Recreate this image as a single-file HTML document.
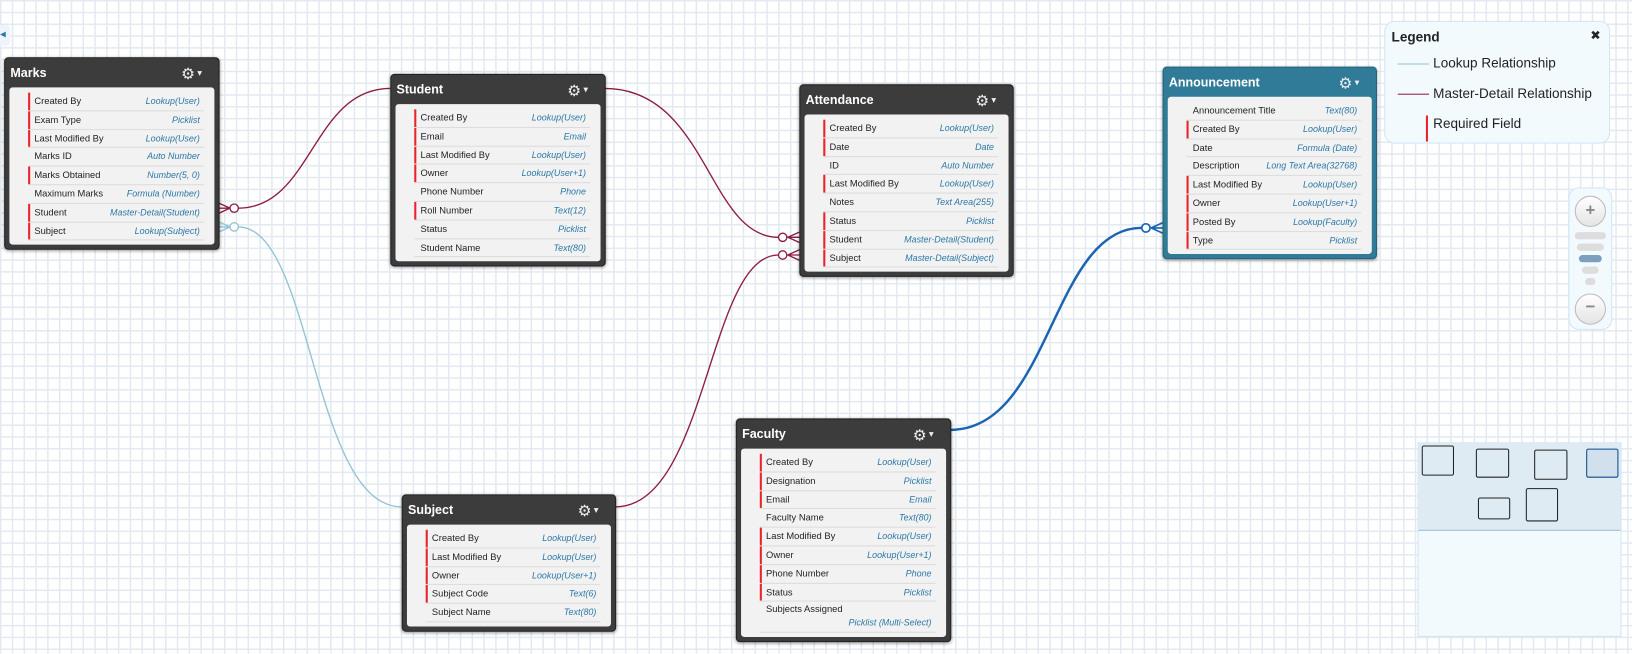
<!DOCTYPE html>
<html><head><meta charset="utf-8"><style>
body{margin:0;width:1632px;height:653px;overflow:hidden;font-family:"Liberation Sans",sans-serif;background:#fff}
#w{position:absolute;left:0;top:0;width:1568px;height:628px;transform:scale(1.0408);transform-origin:0 0;
background-color:#fff;background-image:linear-gradient(#e2e9f1 1.3px,transparent 1.3px),linear-gradient(90deg,#e2e9f1 1.3px,transparent 1.3px);background-size:11.33px 11.33px}
.box{position:absolute;background:#3c3c3c;border:1px solid #222;border-radius:4px;box-shadow:0 1px 3px rgba(0,0,0,.4)}
.box.teal{background:#2f7b98;border-color:#236179}
.hd{height:28px;color:#fff;font-weight:bold;font-size:12px;line-height:28px;padding-left:5px;position:relative}
.gear{position:absolute;right:16px;top:0;font-size:15px;color:#eee;font-weight:normal}
.gear:after{content:"▾";font-size:9px;margin-left:2px;vertical-align:3px}
.pn{background:#f2f2f2;margin:0 4px 4px;border-radius:3px;padding:5px 0 4px}
.r{height:17.8px;margin:0 10px 0 18px;border-bottom:1px solid #dcdcdc;box-sizing:border-box;position:relative;font-size:9px;color:#222;line-height:17px;padding-left:6px}
.r.q:before{content:"";position:absolute;left:0;top:0;bottom:0;width:2px;background:#e8252b}
.r i{position:absolute;right:4px;top:0;color:#2a78a6;font-size:8.6px}
.lg{position:absolute;left:1330px;top:20px;width:215px;height:116px;background:#f3fafe;border:1px solid #cfe6f6;border-radius:10px}
</style></head><body><div id="w">
<div style="position:absolute;left:0;top:24px;width:10px;height:20px;background:#eef4fa;border-radius:0 4px 4px 0;font-size:7px;color:#2a78a6;line-height:20px">◀</div>
<svg width="1568" height="628" style="position:absolute;left:0;top:0">
<g fill="none" stroke="#8e1c42" stroke-width="1.3">
<path d="M229 200 C300 200 300 85 375 85"/><path d="M210 195 L221 200 L210 205 M210 200 H221"/><circle cx="225" cy="200" r="4" fill="#fff"/>
<path d="M581 85 C680 85 680 228 748 228"/><path d="M768 223 L757 228 L768 233 M768 228 H757"/><circle cx="752" cy="228" r="4" fill="#fff"/>
<path d="M591 487 C680 487 680 245 748 245"/><path d="M768 240 L757 245 L768 250 M768 245 H757"/><circle cx="752" cy="245" r="4" fill="#fff"/>
</g>
<g fill="none" stroke="#93c3d6" stroke-width="1.3">
<path d="M229 218 C300 218 300 487 386 487"/><path d="M210 213 L221 218 L210 223 M210 218 H221"/><circle cx="225" cy="218" r="4" fill="#fff"/>
</g>
<g fill="none" stroke="#1a64b2" stroke-width="2.4">
<path d="M913 413 C1010 413 1010 219 1097 219"/><path d="M1117 214 L1106 219 L1117 224 M1117 219 H1106" stroke-width="1.6"/><circle cx="1101" cy="219" r="4" fill="#fff" stroke-width="1.6"/>
</g>
</svg>

<div class="box" style="left:4px;top:55px;width:205px"><div class="hd">Marks<span class="gear">⚙</span></div><div class="pn">
<div class="r q">Created By<i>Lookup(User)</i></div><div class="r q">Exam Type<i>Picklist</i></div><div class="r q">Last Modified By<i>Lookup(User)</i></div><div class="r">Marks ID<i>Auto Number</i></div><div class="r q">Marks Obtained<i>Number(5, 0)</i></div><div class="r">Maximum Marks<i>Formula (Number)</i></div><div class="r q">Student<i>Master-Detail(Student)</i></div><div class="r q">Subject<i>Lookup(Subject)</i></div></div></div>

<div class="box" style="left:375px;top:71px;width:205px"><div class="hd">Student<span class="gear">⚙</span></div><div class="pn">
<div class="r q">Created By<i>Lookup(User)</i></div><div class="r q">Email<i>Email</i></div><div class="r q">Last Modified By<i>Lookup(User)</i></div><div class="r q">Owner<i>Lookup(User+1)</i></div><div class="r">Phone Number<i>Phone</i></div><div class="r q">Roll Number<i>Text(12)</i></div><div class="r">Status<i>Picklist</i></div><div class="r">Student Name<i>Text(80)</i></div></div></div>

<div class="box" style="left:768px;top:81px;width:204px"><div class="hd">Attendance<span class="gear">⚙</span></div><div class="pn">
<div class="r q">Created By<i>Lookup(User)</i></div><div class="r q">Date<i>Date</i></div><div class="r">ID<i>Auto Number</i></div><div class="r q">Last Modified By<i>Lookup(User)</i></div><div class="r">Notes<i>Text Area(255)</i></div><div class="r q">Status<i>Picklist</i></div><div class="r q">Student<i>Master-Detail(Student)</i></div><div class="r q">Subject<i>Master-Detail(Subject)</i></div></div></div>

<div class="box teal" style="left:1117px;top:64px;width:204px"><div class="hd">Announcement<span class="gear">⚙</span></div><div class="pn">
<div class="r">Announcement Title<i>Text(80)</i></div><div class="r q">Created By<i>Lookup(User)</i></div><div class="r">Date<i>Formula (Date)</i></div><div class="r">Description<i>Long Text Area(32768)</i></div><div class="r q">Last Modified By<i>Lookup(User)</i></div><div class="r q">Owner<i>Lookup(User+1)</i></div><div class="r q">Posted By<i>Lookup(Faculty)</i></div><div class="r q">Type<i>Picklist</i></div></div></div>

<div class="box" style="left:707px;top:402px;width:205px"><div class="hd">Faculty<span class="gear">⚙</span></div><div class="pn">
<div class="r q">Created By<i>Lookup(User)</i></div><div class="r q">Designation<i>Picklist</i></div><div class="r q">Email<i>Email</i></div><div class="r">Faculty Name<i>Text(80)</i></div><div class="r q">Last Modified By<i>Lookup(User)</i></div><div class="r q">Owner<i>Lookup(User+1)</i></div><div class="r q">Phone Number<i>Phone</i></div><div class="r q">Status<i>Picklist</i></div><div class="r" style="height:30px;line-height:15px">Subjects Assigned<i style="top:13px">Picklist (Multi-Select)</i></div></div></div>

<div class="box" style="left:386px;top:475px;width:204px"><div class="hd">Subject<span class="gear">⚙</span></div><div class="pn">
<div class="r q">Created By<i>Lookup(User)</i></div><div class="r q">Last Modified By<i>Lookup(User)</i></div><div class="r q">Owner<i>Lookup(User+1)</i></div><div class="r q">Subject Code<i>Text(6)</i></div><div class="r">Subject Name<i>Text(80)</i></div></div></div>

<div class="lg">
<div style="position:absolute;left:6px;top:7px;font-weight:bold;font-size:13px;color:#222">Legend</div>
<div style="position:absolute;right:8px;top:6px;font-size:12px;color:#222">✖</div>
<div style="position:absolute;left:12px;top:40px;width:30px;height:1px;background:#93c3d6"></div>
<div style="position:absolute;left:46px;top:32px;font-size:13px;color:#222">Lookup Relationship</div>
<div style="position:absolute;left:12px;top:69px;width:30px;height:1px;background:#8e1c42"></div>
<div style="position:absolute;left:46px;top:61px;font-size:13px;color:#222">Master-Detail Relationship</div>
<div style="position:absolute;left:39px;top:90px;width:2px;height:25px;background:#e8252b"></div>
<div style="position:absolute;left:46px;top:90px;font-size:13px;color:#222">Required Field</div>
</div>

<div style="position:absolute;left:1507px;top:180px;width:40px;height:135px;background:#f3fafe;border:1px solid #cfe6f6;border-radius:10px">
<div style="position:absolute;left:5px;top:7px;width:28px;height:28px;border-radius:50%;background:linear-gradient(#fff,#e4e4e4);border:1px solid #bbb;text-align:center;line-height:27px;font-weight:bold;color:#888;font-size:16px">+</div>
<div style="position:absolute;left:5px;top:42px;width:30px;height:7px;border-radius:4px;background:#ddd"></div>
<div style="position:absolute;left:7px;top:53px;width:26px;height:7px;border-radius:4px;background:#ddd"></div>
<div style="position:absolute;left:9px;top:64px;width:22px;height:7px;border-radius:4px;background:#7d9fc0"></div>
<div style="position:absolute;left:12px;top:75px;width:16px;height:7px;border-radius:4px;background:#ddd"></div>
<div style="position:absolute;left:15px;top:86px;width:10px;height:7px;border-radius:4px;background:#ddd"></div>
<div style="position:absolute;left:5px;top:101px;width:28px;height:28px;border-radius:50%;background:linear-gradient(#fff,#e4e4e4);border:1px solid #bbb;text-align:center;line-height:26px;font-weight:bold;color:#888;font-size:16px">−</div>
</div>

<div style="position:absolute;left:1362px;top:425px;width:194px;height:185px;background:#f3fafe;border:1px solid #cfe6f6">
<div style="position:absolute;left:0;top:0;width:194px;height:83px;background:#deebf3;border-bottom:1px solid #9cc0d6"></div>
<div style="position:absolute;left:3px;top:2px;width:29px;height:27px;border:1px solid #222;border-radius:2px"></div>
<div style="position:absolute;left:55px;top:5px;width:30px;height:26px;border:1px solid #222;border-radius:2px"></div>
<div style="position:absolute;left:111px;top:6px;width:30px;height:27px;border:1px solid #222;border-radius:2px"></div>
<div style="position:absolute;left:161px;top:5px;width:29px;height:26px;border:1px solid #0d4a8a;border-radius:2px;background:#d0e0ec"></div>
<div style="position:absolute;left:57px;top:52px;width:29px;height:19px;border:1px solid #222;border-radius:2px"></div>
<div style="position:absolute;left:103px;top:43px;width:29px;height:30px;border:1px solid #222;border-radius:2px"></div>
</div>
</div></body></html>
